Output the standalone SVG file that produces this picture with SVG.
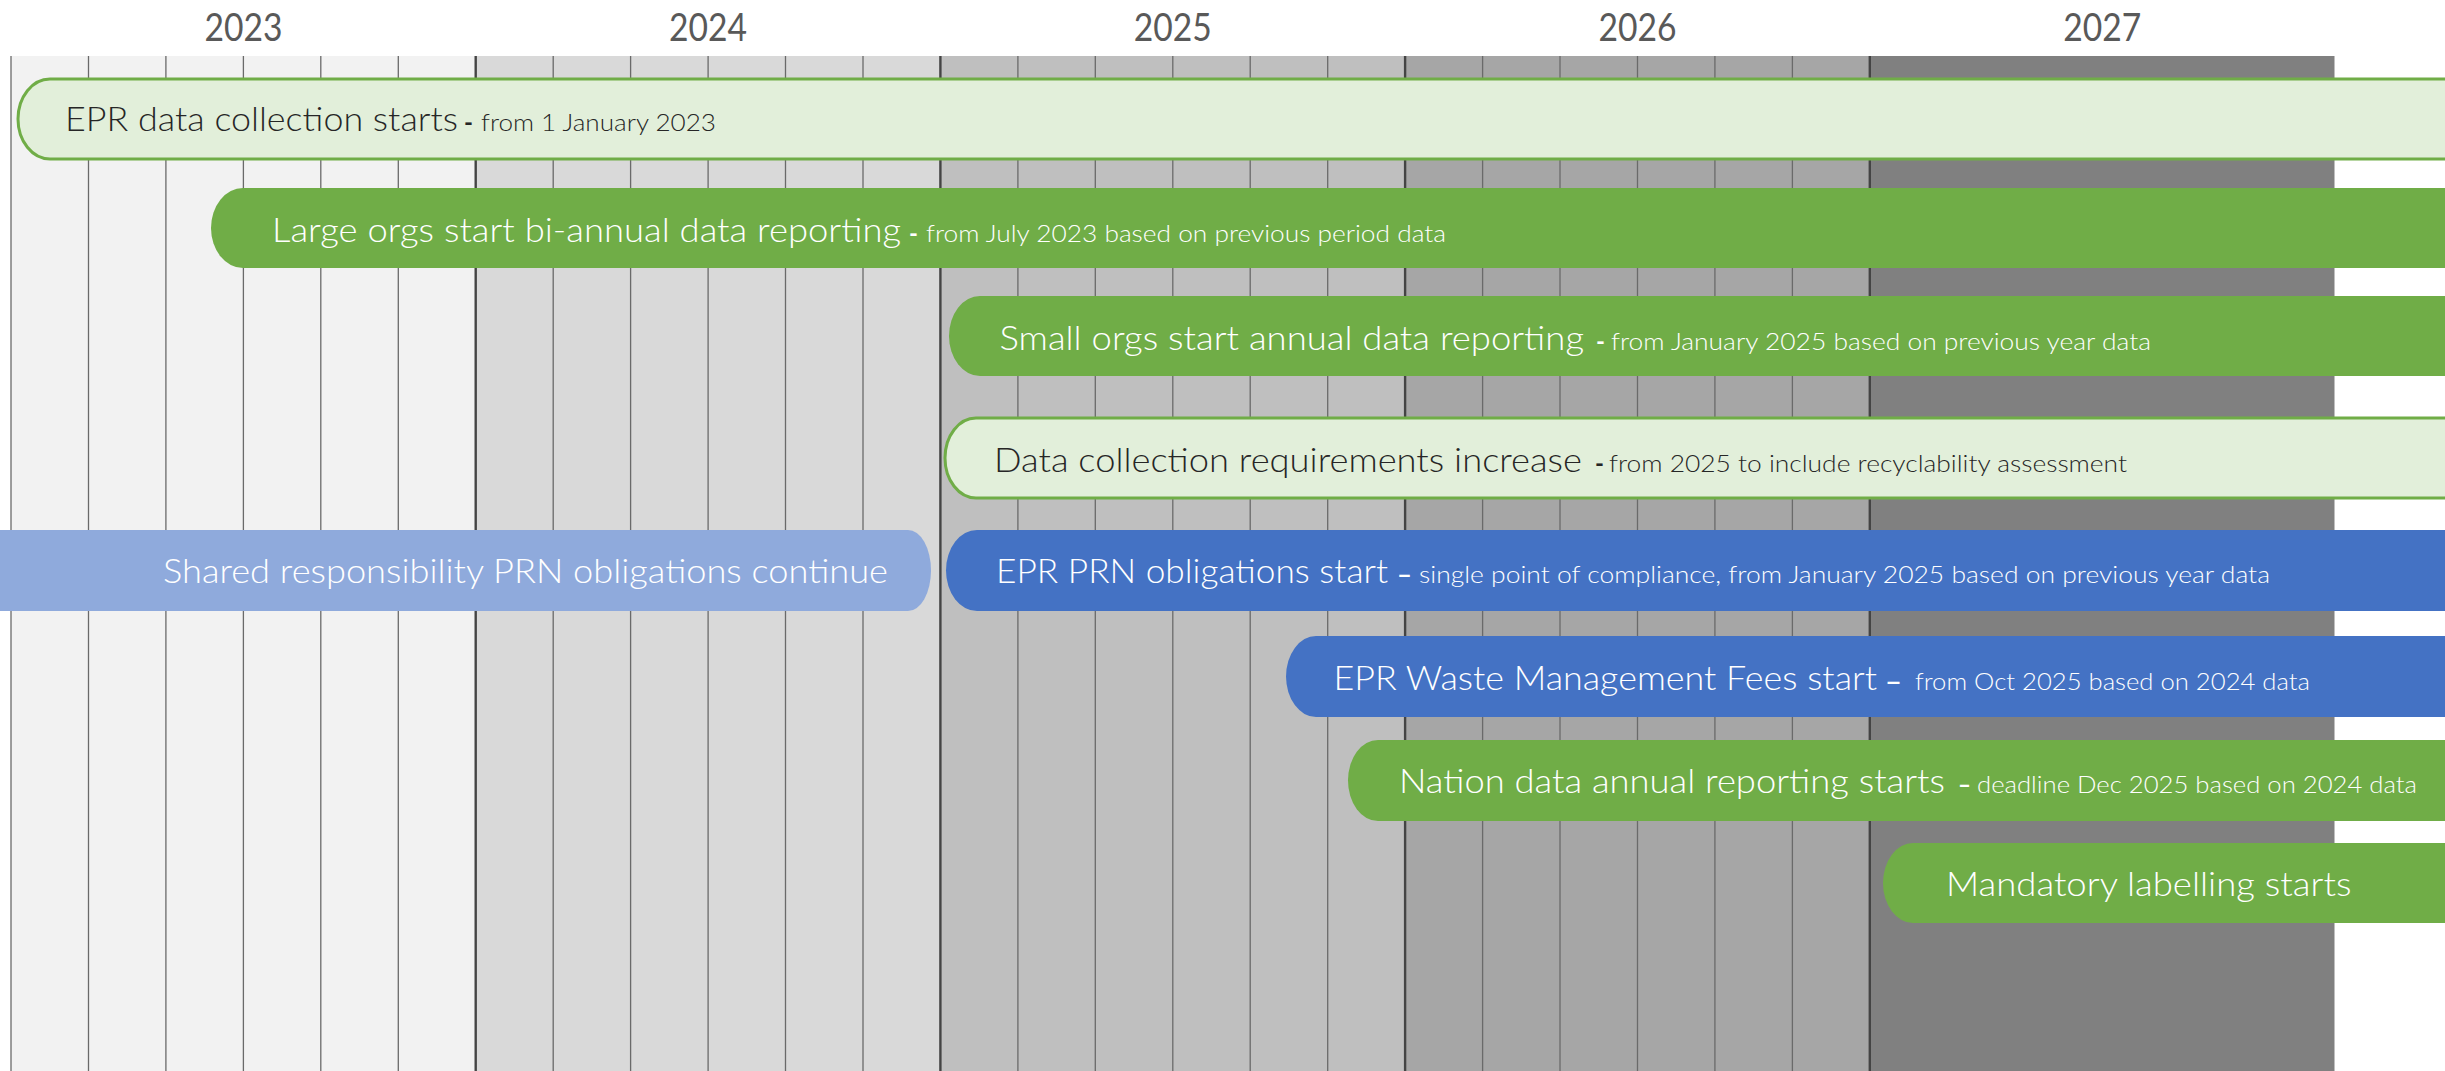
<svg xmlns="http://www.w3.org/2000/svg" width="2445" height="1071" viewBox="0 0 2445 1071">
  <style>
    text { font-family: Lato, "Liberation Sans", sans-serif; font-weight: 300; }
    .year { font-size: 38px; font-weight: 400; fill: #595959; text-anchor: middle; }
    .main { font-size: 33px; }
    .sub { font-size: 23px; font-weight: 300; }
    .dash { font-size: 24px; font-weight: 700; }
    .dark { fill: #262626; }
    .light { fill: #ffffff; }
    .gl { stroke: #6a6a6a; stroke-width: 1.3; }
    .gy { stroke: #444444; stroke-width: 2.4; }
    .bar-pale { fill: #e2efda; stroke: #70ad47; stroke-width: 3; }
    .bar-green { fill: #70ad47; }
    .bar-blue { fill: #4472c4; }
    .bar-paleblue { fill: #8faadc; }
  </style>

  <rect width="2445" height="1071" fill="#ffffff"/>

  <!-- year columns -->
  <g id="columns">
    <rect x="11" y="56" width="464.7" height="1015" fill="#f2f2f2"/>
    <rect x="475.7" y="56" width="464.7" height="1015" fill="#d9d9d9"/>
    <rect x="940.4" y="56" width="464.7" height="1015" fill="#bfbfbf"/>
    <rect x="1405.1" y="56" width="464.7" height="1015" fill="#a6a6a6"/>
    <rect x="1869.8" y="56" width="464.7" height="1015" fill="#808080"/>
  </g>

  <!-- two-month divisions -->
  <g id="gridlines">
    <line class="gl" x1="11" y1="56" x2="11" y2="1071"/>
    <line class="gl" x1="88.5" y1="56" x2="88.5" y2="1071"/>
    <line class="gl" x1="165.9" y1="56" x2="165.9" y2="1071"/>
    <line class="gl" x1="243.4" y1="56" x2="243.4" y2="1071"/>
    <line class="gl" x1="320.8" y1="56" x2="320.8" y2="1071"/>
    <line class="gl" x1="398.3" y1="56" x2="398.3" y2="1071"/>
    <line class="gy" x1="475.7" y1="56" x2="475.7" y2="1071"/>
    <line class="gl" x1="553.2" y1="56" x2="553.2" y2="1071"/>
    <line class="gl" x1="630.6" y1="56" x2="630.6" y2="1071"/>
    <line class="gl" x1="708.1" y1="56" x2="708.1" y2="1071"/>
    <line class="gl" x1="785.5" y1="56" x2="785.5" y2="1071"/>
    <line class="gl" x1="863" y1="56" x2="863" y2="1071"/>
    <line class="gy" x1="940.4" y1="56" x2="940.4" y2="1071"/>
    <line class="gl" x1="1017.9" y1="56" x2="1017.9" y2="1071"/>
    <line class="gl" x1="1095.3" y1="56" x2="1095.3" y2="1071"/>
    <line class="gl" x1="1172.8" y1="56" x2="1172.8" y2="1071"/>
    <line class="gl" x1="1250.2" y1="56" x2="1250.2" y2="1071"/>
    <line class="gl" x1="1327.7" y1="56" x2="1327.7" y2="1071"/>
    <line class="gy" x1="1405.1" y1="56" x2="1405.1" y2="1071"/>
    <line class="gl" x1="1482.6" y1="56" x2="1482.6" y2="1071"/>
    <line class="gl" x1="1560" y1="56" x2="1560" y2="1071"/>
    <line class="gl" x1="1637.5" y1="56" x2="1637.5" y2="1071"/>
    <line class="gl" x1="1714.9" y1="56" x2="1714.9" y2="1071"/>
    <line class="gl" x1="1792.4" y1="56" x2="1792.4" y2="1071"/>
    <line class="gy" x1="1869.8" y1="56" x2="1869.8" y2="1071"/>
  </g>

  <g id="years">
    <text class="year" x="243.4" y="41" textLength="78" lengthAdjust="spacingAndGlyphs">2023</text>
    <text class="year" x="708.1" y="41" textLength="78" lengthAdjust="spacingAndGlyphs">2024</text>
    <text class="year" x="1172.8" y="41" textLength="78" lengthAdjust="spacingAndGlyphs">2025</text>
    <text class="year" x="1637.5" y="41" textLength="78" lengthAdjust="spacingAndGlyphs">2026</text>
    <text class="year" x="2102.2" y="41" textLength="78" lengthAdjust="spacingAndGlyphs">2027</text>
  </g>

  <g id="epr-data-collection">
    <path class="bar-pale" d="M50 79 H2460 V159 H50 A32 40 0 0 1 50 79 Z"/>
    <text class="main dark" x="65" y="131" textLength="393" lengthAdjust="spacingAndGlyphs">EPR data collection starts</text>
    <text class="dash dark" x="464" y="131">-</text>
    <text class="sub dark" x="481" y="131" textLength="235" lengthAdjust="spacingAndGlyphs">from 1 January 2023</text>
  </g>

  <g id="large-orgs-reporting">
    <path class="bar-green" d="M243 188 H2460 V268 H243 A32 40 0 0 1 243 188 Z"/>
    <text class="main light" x="272" y="241.5" textLength="629" lengthAdjust="spacingAndGlyphs">Large orgs start bi-annual data reporting</text>
    <text class="dash light" x="909" y="241.5">-</text>
    <text class="sub light" x="926" y="241.5" textLength="520" lengthAdjust="spacingAndGlyphs">from July 2023 based on previous period data</text>
  </g>

  <g id="small-orgs-reporting">
    <path class="bar-green" d="M980 296 H2460 V376 H980 A31 40 0 0 1 980 296 Z"/>
    <text class="main light" x="999.5" y="350" textLength="584.5" lengthAdjust="spacingAndGlyphs">Small orgs start annual data reporting</text>
    <text class="dash light" x="1596" y="350">-</text>
    <text class="sub light" x="1611" y="350" textLength="540" lengthAdjust="spacingAndGlyphs">from January 2025 based on previous year data</text>
  </g>

  <g id="data-requirements-increase">
    <path class="bar-pale" d="M976 418 H2460 V498 H976 A31 40 0 0 1 976 418 Z"/>
    <text class="main dark" x="994" y="471.5" textLength="588" lengthAdjust="spacingAndGlyphs">Data collection requirements increase</text>
    <text class="dash dark" x="1595" y="471.5">-</text>
    <text class="sub dark" x="1609" y="471.5" textLength="518" lengthAdjust="spacingAndGlyphs">from 2025 to include recyclability assessment</text>
  </g>

  <g id="shared-prn-continue">
    <path class="bar-paleblue" d="M-10 530 H908 A23 40.5 0 0 1 908 611 H-10 Z"/>
    <text class="main light" x="163" y="583" textLength="725" lengthAdjust="spacingAndGlyphs">Shared responsibility PRN obligations continue</text>
  </g>

  <g id="epr-prn-start">
    <path class="bar-blue" d="M977 530 H2460 V611 H977 A31 40.5 0 0 1 977 530 Z"/>
    <text class="main light" x="996" y="583" textLength="392" lengthAdjust="spacingAndGlyphs">EPR PRN obligations start</text>
    <text class="dash light" x="1397" y="583" textLength="15" lengthAdjust="spacingAndGlyphs">–</text>
    <text class="sub light" x="1419" y="583" textLength="851" lengthAdjust="spacingAndGlyphs">single point of compliance, from January 2025 based on previous year data</text>
  </g>

  <g id="waste-fees-start">
    <path class="bar-blue" d="M1316 636 H2460 V717 H1316 A30 40.5 0 0 1 1316 636 Z"/>
    <text class="main light" x="1333.5" y="689.5" textLength="543.5" lengthAdjust="spacingAndGlyphs">EPR Waste Management Fees start</text>
    <text class="dash light" x="1885" y="689.5" textLength="17" lengthAdjust="spacingAndGlyphs">–</text>
    <text class="sub light" x="1915" y="689.5" textLength="395" lengthAdjust="spacingAndGlyphs">from Oct 2025 based on 2024 data</text>
  </g>

  <g id="nation-reporting-start">
    <path class="bar-green" d="M1378 740 H2460 V821 H1378 A30 40.5 0 0 1 1378 740 Z"/>
    <text class="main light" x="1399" y="793" textLength="546" lengthAdjust="spacingAndGlyphs">Nation data annual reporting starts</text>
    <text class="dash light" x="1958" y="793" textLength="13" lengthAdjust="spacingAndGlyphs">–</text>
    <text class="sub light" x="1977" y="793" textLength="440" lengthAdjust="spacingAndGlyphs">deadline Dec 2025 based on 2024 data</text>
  </g>

  <g id="labelling-start">
    <path class="bar-green" d="M1913 843 H2460 V923 H1913 A30 40 0 0 1 1913 843 Z"/>
    <text class="main light" x="1946" y="896" textLength="405.5" lengthAdjust="spacingAndGlyphs">Mandatory labelling starts</text>
  </g>
</svg>
